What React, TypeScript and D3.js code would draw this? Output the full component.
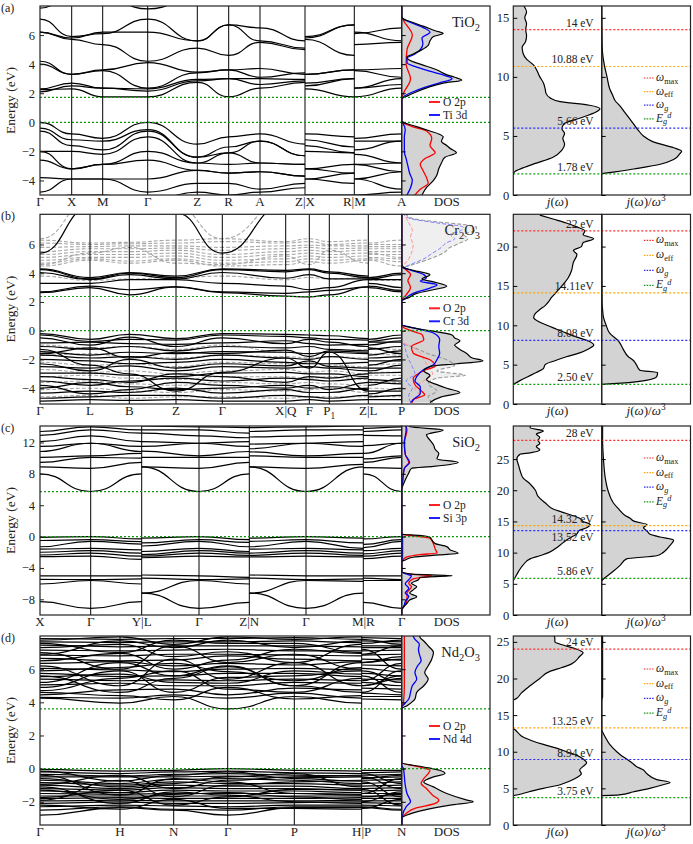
import { useEffect, useRef } from 'react';
import * as d3 from 'd3';

type Pt = [number, number];
type Seg = { pos: number[]; val: number[] };
type Part = { t: string; sub?: boolean; sup?: boolean; it?: boolean; dx?: number };

// ---------------- (a) TiO2 ----------------
const TIO2_KLABELS = ['Γ', 'X', 'M', 'Γ', 'Z', 'R', 'A', 'Z|X', 'R|M', 'A'];
const TIO2_KDIST = [0, 0.317, 0.627, 1.077, 1.573, 1.887, 2.2, 2.65, 3.143, 3.617];
// band values at Γ X M Γ Z R A Z
const TIO2_SEGS: Seg[] = [
  { pos: [0, 1, 2, 3, 4, 5, 6, 7], val: [0, 1, 2, 3, 4, 5, 6, 7] },
  { pos: [7, 8], val: [1, 5] },
  { pos: [8, 9], val: [2, 6] },
];
const TIO2_BANDS = [
  [2.25, 2.3, 1.75, 1.75, 2.75, 1.75, 2.35, 2.75],
  [2.1, 2.5, 2.35, 2.15, 2.85, 3.0, 2.6, 2.85],
  [2.3, 2.7, 2.35, 2.3, 2.95, 3.0, 3.0, 2.95],
  [4.0, 3.3, 3.55, 2.35, 3.4, 3.6, 3.1, 3.4],
  [4.2, 3.3, 3.6, 4.1, 3.45, 3.6, 3.7, 3.3],
  [6.2, 5.7, 5.35, 4.2, 5.1, 4.6, 5.5, 5.0],
  [6.2, 5.8, 6.2, 6.2, 5.6, 6.7, 5.6, 5.1],
  [7.1, 5.9, 6.1, 7.1, 5.6, 6.7, 6.5, 5.6],
  [7.85, 8.6, 8.6, 7.8, 8.6, 8.6, 8.6, 8.6],
  [0.0, -0.8, -1.1, 0.0, -1.5, -1.0, -0.8, -1.5],
  [-0.4, -1.2, -1.3, -0.5, -2.4, -1.7, -1.3, -2.3],
  [-0.6, -1.6, -1.9, -0.6, -2.4, -2.1, -1.3, -2.3],
  [-2.0, -2.0, -2.2, -1.0, -2.8, -2.1, -2.8, -2.9],
  [-2.0, -3.2, -2.9, -2.0, -2.8, -2.9, -2.8, -2.9],
  [-2.6, -3.2, -2.9, -2.6, -3.3, -3.5, -3.4, -3.7],
  [-3.8, -3.9, -3.9, -3.9, -3.3, -3.5, -3.4, -3.7],
  [-4.8, -3.9, -3.9, -4.8, -4.2, -4.2, -4.6, -4.2],
  [-5.4, -5.0, -5.0, -5.4, -4.8, -5.0, -4.8, -4.5],
];
const TIO2_ETICKS = [-4, -2, 0, 2, 4, 6];
const TIO2_GAPS = [0, 1.72];
const TIO2_DOS_TOTAL: Pt[] = [
  [-5, 0.23], [-4.5, 0.28], [-4.0, 0.36], [-3.6, 0.4], [-3.2, 0.42], [-2.8, 0.45], [-2.4, 0.49],
  [-2.1, 0.62], [-1.8, 0.55], [-1.6, 0.51], [-1.3, 0.45], [-1.0, 0.47], [-0.8, 0.42], [-0.6, 0.32],
  [-0.3, 0.17], [0, 0.02], [0.1, 0], [1.6, 0], [1.8, 0.06], [2.1, 0.17], [2.4, 0.3], [2.7, 0.47],
  [2.9, 0.68], [3.1, 0.6], [3.3, 0.5], [3.6, 0.4], [4.0, 0.21], [4.3, 0.08], [4.5, 0.06], [4.7, 0.13],
  [5.0, 0.23], [5.3, 0.3], [5.6, 0.32], [5.9, 0.36], [6.1, 0.47], [6.3, 0.38], [6.6, 0.25],
  [6.9, 0.11], [7.1, 0.02], [7.3, 0], [8, 0],
];
const TIO2_DOS_O2P: Pt[] = [
  [-5, 0.15], [-4.6, 0.21], [-4.2, 0.3], [-3.8, 0.28], [-3.3, 0.24], [-2.9, 0.21], [-2.5, 0.26],
  [-2.1, 0.38], [-1.6, 0.32], [-1.1, 0.34], [-0.6, 0.28], [-0.3, 0.12], [0, 0.01], [0.1, 0],
  [1.6, 0], [2.0, 0.02], [3.0, 0.1], [4.0, 0.05], [5.0, 0.06], [6.0, 0.12], [7.0, 0.02], [7.3, 0], [8, 0],
];
const TIO2_DOS_TI3D: Pt[] = [
  [-5, 0.06], [-4.5, 0.1], [-4.0, 0.12], [-3.5, 0.09], [-3.0, 0.07], [-2.5, 0.05], [-2.0, 0.03],
  [-1.0, 0.03], [-0.5, 0.04], [0, 0.01], [0.1, 0], [1.6, 0], [1.8, 0.03], [2.1, 0.13], [2.4, 0.26],
  [2.7, 0.42], [3.0, 0.57], [3.2, 0.5], [3.5, 0.33], [3.8, 0.17], [4.1, 0.06], [4.4, 0.06], [4.7, 0.15],
  [5.0, 0.21], [5.4, 0.24], [5.8, 0.23], [6.2, 0.32], [6.5, 0.25], [6.8, 0.13], [7.1, 0.02], [7.3, 0], [8, 0],
];
const TIO2_J: Pt[] = [
  [1.8, 0], [2.0, 0.02], [2.3, 0.11], [2.7, 0.26], [3.2, 0.45], [3.8, 0.55], [4.3, 0.58], [4.8, 0.56],
  [5.2, 0.58], [5.6, 0.55], [6.0, 0.57], [6.5, 0.75], [7.0, 0.93], [7.3, 0.98], [7.6, 0.86],
  [7.9, 0.53], [8.2, 0.42], [8.6, 0.37], [9.0, 0.36], [9.5, 0.34], [10, 0.3], [10.5, 0.27],
  [11, 0.23], [11.5, 0.15], [12, 0.11], [12.5, 0.1], [13, 0.14], [13.5, 0.15], [14, 0.14],
  [14.5, 0.15], [15, 0.13], [15.5, 0.15], [16, 0.12],
];
const TIO2_JW3: Pt[] = [
  [1.78, 0], [1.85, 0.04], [1.95, 0.15], [2.2, 0.36], [2.6, 0.66], [3.0, 0.81], [3.5, 0.88],
  [3.7, 0.9], [4.0, 0.81], [4.5, 0.58], [5.0, 0.47], [5.5, 0.41], [6.0, 0.36], [6.5, 0.31],
  [7.0, 0.26], [7.5, 0.21], [8.0, 0.15], [8.5, 0.12], [9.0, 0.09], [10, 0.06], [11, 0.03],
  [12, 0.01], [13, 0.004], [16, 0],
];
const TIO2_REFS = [14, 10.88, 5.66, 1.78];
const TIO2_REF_LABELS = ['14 eV', '10.88 eV', '5.66 eV', '1.78 eV'];
const TIO2_JTICKS = [0, 5, 10, 15];

// ---------------- (b) Cr2O3 ----------------
const CR2O3_KLABELS = ['Γ', 'L', 'B', 'Z', 'Γ', 'X|Q', 'F', 'P_1', 'Z|L', 'P'];
const CR2O3_KDIST = [0, 0.5, 0.893, 1.36, 1.823, 2.457, 2.693, 2.893, 3.283, 3.617];
// band values at Γ L B Z Γ X Q F P1 P
const CR2O3_SEGS: Seg[] = [
  { pos: [0, 1, 2, 3, 4, 5], val: [0, 1, 2, 3, 4, 5] },
  { pos: [5, 6, 7, 8], val: [6, 7, 8, 3] },
  { pos: [8, 9], val: [1, 9] },
];
const CR2O3_BANDS_UP = [
  [2.65, 3.0, 2.5, 3.05, 2.65, 2.4, 2.4, 2.35, 2.5, 2.7],
  [2.7, 3.1, 2.85, 3.05, 2.7, 2.6, 2.6, 2.7, 2.8, 2.8],
  [3.3, 3.3, 3.55, 3.55, 3.3, 3.1, 3.1, 2.85, 3.0, 3.0],
  [4.05, 3.55, 3.9, 3.6, 4.05, 3.65, 3.65, 3.9, 3.6, 3.55],
  [4.25, 3.6, 4.0, 3.7, 4.25, 4.1, 4.1, 4.25, 4.0, 3.9],
  [4.3, 3.7, 4.05, 3.8, 4.3, 4.2, 4.2, 4.3, 4.1, 4.0],
  [5.4, 8.6, 9.5, 8.2, 5.4, 8.8, 9.5, 9.5, 9.5, 8.6],
  [-0.2, -0.6, -0.25, -0.55, -0.2, -0.25, -0.25, -0.3, -0.35, -0.3],
  [-0.3, -0.75, -0.6, -0.65, -0.3, -0.4, -0.4, -0.5, -0.6, -0.5],
  [-0.5, -1.0, -0.45, -1.1, -0.5, -0.9, -0.9, -0.6, -0.8, -0.7],
  [-0.85, -0.8, -0.9, -0.95, -0.85, -0.7, -0.7, -0.9, -1.0, -0.8],
  [-1.1, -1.3, -1.1, -1.4, -1.1, -1.2, -1.2, -1.1, -1.3, -1.1],
  [-1.45, -1.7, -1.5, -1.6, -1.45, -1.5, -1.5, -1.6, -1.5, -1.4],
  [-1.6, -1.2, -1.9, -1.5, -1.6, -1.35, -1.35, -1.8, -1.4, -1.6],
  [-1.7, -1.9, -1.8, -2.0, -1.7, -1.9, -1.9, -2.0, -1.8, -1.8],
  [-2.0, -2.1, -2.3, -2.2, -2.0, -2.2, -2.2, -2.3, -2.3, -2.1],
  [-2.3, -2.8, -2.0, -2.6, -2.3, -2.45, -2.45, -2.1, -2.5, -2.4],
  [-2.5, -2.6, -2.45, -2.8, -2.5, -2.6, -2.6, -2.5, -2.6, -2.6],
  [-2.95, -2.95, -3.1, -3.2, -2.95, -2.9, -2.9, -3.0, -3.0, -2.9],
  [-3.2, -3.4, -3.6, -3.0, -3.2, -3.6, -3.6, -3.2, -3.3, -3.5],
  [-3.5, -3.8, -3.5, -3.3, -3.5, -3.3, -3.3, -3.4, -3.5, -3.3],
  [-3.8, -4.4, -4.1, -3.6, -3.8, -4.0, -4.0, -3.8, -4.1, -4.0],
  [-4.0, -3.6, -3.9, -4.1, -4.0, -3.8, -3.8, -4.0, -3.9, -3.7],
  [-4.35, -4.2, -4.3, -4.0, -4.35, -4.1, -4.1, -4.3, -4.3, -4.2],
  [-4.7, -4.6, -4.5, -4.5, -4.7, -4.5, -4.5, -4.6, -4.7, -4.5],
  [-4.9, -4.8, -4.85, -4.8, -4.9, -4.9, -4.9, -4.8, -4.9, -4.8],
  [-1.3, -2.4, -3.0, -4.2, -2.9, -1.9, -1.9, -2.6, -1.5, -2.0],
];
const CR2O3_BANDS_DN = [
  [3.8, 3.5, 3.6, 3.7, 3.8, 3.55, 3.55, 3.7, 3.6, 3.5],
  [4.5, 4.9, 4.7, 4.9, 4.5, 4.6, 4.6, 4.8, 4.7, 4.5],
  [4.7, 5.0, 4.85, 5.0, 4.7, 4.8, 4.8, 5.0, 4.9, 4.8],
  [4.9, 5.1, 5.1, 5.2, 4.9, 5.0, 5.0, 5.2, 5.1, 5.0],
  [5.1, 5.3, 5.3, 5.4, 5.1, 5.3, 5.3, 5.4, 5.3, 5.3],
  [5.3, 5.5, 5.5, 5.6, 5.3, 5.5, 5.5, 5.6, 5.5, 5.5],
  [5.5, 5.7, 5.7, 5.75, 5.6, 5.7, 5.7, 5.8, 5.7, 5.7],
  [5.8, 5.85, 5.9, 5.9, 5.8, 5.9, 5.9, 5.95, 5.9, 5.85],
  [6.1, 6.0, 6.05, 6.1, 6.2, 6.1, 6.1, 6.2, 6.0, 6.0],
  [6.3, 6.1, 6.15, 6.3, 6.4, 6.2, 6.2, 6.4, 6.2, 6.3],
  [4.6, 5.4, 5.8, 4.7, 4.6, 5.2, 5.2, 4.6, 5.6, 5.1],
  [6.4, 9.0, 9.5, 8.6, 6.4, 9.0, 9.5, 9.5, 9.5, 9.0],
  [-1.0, -1.2, -1.1, -1.3, -1.0, -1.5, -1.5, -1.6, -1.5, -1.3],
  [-1.7, -1.6, -1.8, -1.9, -1.7, -1.8, -1.8, -1.9, -1.8, -1.7],
  [-2.2, -2.4, -2.3, -2.5, -2.2, -2.3, -2.3, -2.2, -2.4, -2.3],
  [-2.7, -2.9, -2.8, -3.0, -2.8, -2.7, -2.7, -2.9, -2.8, -2.9],
  [-3.2, -3.1, -3.3, -3.4, -3.2, -3.2, -3.2, -3.3, -3.2, -3.1],
  [-3.6, -3.5, -3.7, -3.8, -3.6, -3.7, -3.7, -3.6, -3.7, -3.6],
  [-4.1, -4.0, -4.2, -4.3, -4.1, -4.2, -4.2, -4.1, -4.0, -4.1],
  [-4.6, -4.5, -4.7, -4.6, -4.6, -4.7, -4.7, -4.6, -4.6, -4.6],
];
const CR2O3_ETICKS = [-4, -2, 0, 2, 4, 6];
const CR2O3_GAPS = [0, 2.38];
const CR2O3_DOS_UP: Pt[] = [
  [-5, 0.32], [-4.6, 0.45], [-4.3, 0.66], [-4.0, 0.51], [-3.8, 0.42], [-3.4, 0.28], [-3.1, 0.32],
  [-2.8, 0.25], [-2.5, 0.32], [-2.3, 0.62], [-2.1, 0.92], [-1.9, 0.8], [-1.6, 0.74], [-1.3, 0.66],
  [-1.0, 0.6], [-0.7, 0.66], [-0.5, 0.6], [-0.3, 0.57], [0, 0.32], [0.2, 0.13], [0.4, 0], [2.1, 0],
  [2.3, 0.08], [2.6, 0.17], [2.9, 0.4], [3.1, 0.51], [3.4, 0.36], [3.6, 0.23], [3.9, 0.32],
  [4.2, 0.13], [4.4, 0.02], [4.6, 0], [8.1, 0],
];
const CR2O3_DOS_DN: Pt[] = [
  [-5, 0.35], [-4.6, 0.3], [-4.2, 0.4], [-3.7, 0.3], [-3.3, 0.4], [-3.1, 0.72], [-2.8, 0.4],
  [-2.4, 0.6], [-2.0, 0.5], [-1.6, 0.3], [-1.2, 0.15], [-0.8, 0], [4.3, 0], [4.6, 0.13], [5.0, 0.32],
  [5.4, 0.47], [5.8, 0.55], [6.1, 0.66], [6.4, 0.75], [6.7, 0.7], [6.9, 0.81], [7.2, 0.85],
  [7.4, 0.68], [7.6, 0.36], [7.8, 0.13], [8.1, 0.05],
];
const CR2O3_O2P_UP: Pt[] = [
  [-5, 0.12], [-4.8, 0.13], [-4.46, 0.26], [-4.23, 0.23], [-3.76, 0.15], [-3.3, 0.13], [-3.07, 0.17],
  [-2.7, 0.28], [-2.48, 0.38], [-2.02, 0.32], [-1.56, 0.13], [-1.1, 0.11], [-0.63, 0.25],
  [-0.28, 0.23], [-0.05, 0.13], [0.35, 0], [2.1, 0], [2.5, 0.05], [3.0, 0.1], [3.5, 0.07],
  [3.9, 0.1], [4.4, 0.02], [4.6, 0], [8.1, 0],
];
const CR2O3_CR3D_UP: Pt[] = [
  [-5, 0.1], [-4.8, 0.13], [-4.35, 0.21], [-3.9, 0.21], [-3.5, 0.15], [-3.2, 0.17], [-2.7, 0.25],
  [-2.37, 0.36], [-2.0, 0.4], [-1.56, 0.43], [-1.1, 0.42], [-0.63, 0.43], [-0.16, 0.36], [0.3, 0.06],
  [0.4, 0], [2.1, 0], [2.16, 0.02], [2.6, 0.13], [2.97, 0.32], [3.2, 0.4], [3.44, 0.21],
  [3.67, 0.28], [3.9, 0.25], [4.2, 0.11], [4.37, 0.02], [4.5, 0], [8.1, 0],
];
const CR2O3_O2P_DN: Pt[] = [
  [-5, 0.1], [-4.5, 0.2], [-4.0, 0.15], [-3.5, 0.25], [-3.0, 0.35], [-2.5, 0.3], [-2.0, 0.25],
  [-1.5, 0.2], [-1.0, 0.08], [-0.8, 0], [4.3, 0], [5.0, 0.08], [6.0, 0.13], [6.5, 0.1], [7.0, 0.12],
  [7.5, 0.08], [8.1, 0.03],
];
const CR2O3_CR3D_DN: Pt[] = [
  [-5, 0.1], [-4.5, 0.08], [-4.0, 0.12], [-3.5, 0.05], [-3.0, 0.15], [-2.5, 0.12], [-2.0, 0.08],
  [-1.5, 0.05], [-1.0, 0.03], [-0.8, 0], [4.3, 0], [4.6, 0.1], [5.0, 0.25], [5.4, 0.35], [5.8, 0.45],
  [6.1, 0.5], [6.4, 0.6], [6.7, 0.55], [6.9, 0.65], [7.2, 0.7], [7.5, 0.4], [7.8, 0.1], [8.1, 0.02],
];
const CR2O3_J: Pt[] = [
  [2.5, 0], [3, 0.08], [3.5, 0.17], [4, 0.26], [4.5, 0.34], [5, 0.36], [5.5, 0.47], [6, 0.6],
  [6.5, 0.75], [7, 0.85], [7.5, 0.91], [8, 0.85], [8.5, 0.72], [9, 0.6], [9.5, 0.49], [10, 0.38],
  [10.5, 0.28], [11, 0.23], [11.5, 0.25], [12, 0.3], [12.5, 0.36], [13, 0.4], [13.5, 0.43],
  [14, 0.47], [15, 0.55], [16, 0.62], [17, 0.66], [18, 0.68], [19, 0.72], [19.5, 0.68], [20, 0.77],
  [20.5, 0.79], [21, 0.91], [21.5, 0.79], [22, 0.81], [22.5, 0.72], [23, 0.6], [23.5, 0.45], [24, 0.3],
];
const CR2O3_JW3: Pt[] = [
  [2.5, 0], [2.55, 0.08], [2.65, 0.22], [3.0, 0.5], [3.5, 0.62], [4.0, 0.63], [4.3, 0.43],
  [5.0, 0.39], [5.5, 0.36], [6.0, 0.3], [7.0, 0.24], [8.0, 0.19], [9.0, 0.09], [10, 0.05],
  [11, 0.02], [12, 0.01], [13, 0.004], [24, 0],
];
const CR2O3_REFS = [22, 14.11, 8.08, 2.5];
const CR2O3_REF_LABELS = ['22 eV', '14.11eV', '8.08 eV', '2.50 eV'];
const CR2O3_JTICKS = [0, 5, 10, 15, 20];

// ---------------- (c) SiO2 ----------------
const SIO2_KLABELS = ['X', 'Γ', 'Y|L', 'Γ', 'Z|N', 'Γ', 'M|R', 'Γ'];
const SIO2_KDIST = [0, 0.507, 1.017, 1.59, 2.093, 2.66, 3.233, 3.617];
// band values at X Γ Y L Z N M R
const SIO2_SEGS: Seg[] = [
  { pos: [0, 1, 2], val: [0, 1, 2] },
  { pos: [2, 3, 4], val: [3, 1, 4] },
  { pos: [4, 5, 6], val: [5, 1, 6] },
  { pos: [6, 7], val: [7, 1] },
];
const SIO2_BANDS = [
  [8.0, 5.75, 8.0, 8.9, 8.0, 8.9, 8.9, 8.0],
  [8.9, 8.7, 9.45, 8.9, 9.45, 8.9, 9.2, 8.8],
  [9.45, 10.1, 10.0, 10.1, 10.1, 10.3, 10.1, 9.45],
  [10.1, 10.3, 10.6, 10.9, 10.85, 10.8, 10.6, 9.9],
  [10.85, 11.9, 10.85, 11.5, 11.5, 11.2, 11.5, 10.6],
  [11.5, 11.9, 11.5, 12.1, 12.1, 11.8, 12.1, 11.6],
  [12.1, 12.85, 12.1, 13.2, 12.6, 12.7, 13.0, 12.9],
  [12.9, 13.6, 13.2, 13.6, 13.2, 13.4, 13.6, 13.4],
  [13.4, 14.0, 13.6, 14.1, 13.9, 13.9, 14.1, 13.8],
  [-0.1, 0.0, -0.3, -0.2, -0.4, -0.2, -0.2, -0.3],
  [-0.5, -0.4, -0.65, -0.8, -0.75, -0.6, -0.8, -1.0],
  [-1.3, -0.6, -0.95, -1.2, -1.3, -1.3, -1.5, -1.4],
  [-1.6, -1.5, -1.7, -1.9, -1.9, -1.6, -1.7, -1.8],
  [-2.0, -1.8, -2.1, -2.3, -2.1, -2.1, -2.1, -2.2],
  [-2.35, -2.1, -2.5, -2.5, -2.4, -2.4, -2.4, -2.5],
  [-2.55, -2.5, -2.9, -2.7, -2.6, -2.6, -2.6, -2.8],
  [-5.0, -5.0, -5.0, -4.9, -5.2, -4.9, -5.0, -5.0],
  [-5.45, -5.5, -5.4, -5.3, -5.4, -5.3, -5.4, -5.3],
  [-6.05, -5.6, -6.05, -7.2, -6.05, -7.2, -5.7, -5.6],
  [-8.3, -9.15, -8.3, -7.2, -8.4, -7.2, -7.2, -8.4],
];
const SIO2_ETICKS = [-8, -4, 0, 4, 8, 12];
const SIO2_GAPS = [0, 5.72];
const SIO2_DOS_TOTAL: Pt[] = [
  [-10, 0], [-9.3, 0], [-9.0, 0.02], [-8.5, 0.06], [-8.1, 0.09], [-7.66, 0.17], [-7.2, 0.09],
  [-6.8, 0.13], [-6.38, 0.17], [-5.96, 0.11], [-5.5, 0.19], [-5.2, 0.21], [-5.0, 0.57], [-4.8, 0.12],
  [-4.5, 0], [-3.2, 0], [-2.98, 0.04], [-2.64, 0.13], [-2.34, 0.42], [-2.13, 0.64], [-1.7, 0.55],
  [-1.28, 0.51], [-0.9, 0.38], [-0.4, 0.34], [-0.1, 0.32], [0.15, 0.2], [0.3, 0], [6.0, 0],
  [6.4, 0.01], [7.2, 0.04], [8.1, 0.08], [8.7, 0.11], [8.95, 0.36], [9.45, 0.64], [9.9, 0.4],
  [10.6, 0.42], [11.1, 0.38], [11.7, 0.36], [12.3, 0.32], [12.97, 0.28], [13.6, 0.47], [14.0, 0.1],
  [14.2, 0.08],
];
const SIO2_DOS_O2P: Pt[] = [
  [-10, 0], [-9.3, 0], [-9.0, 0.02], [-8.0, 0.06], [-7.2, 0.06], [-6.4, 0.11], [-5.96, 0.08],
  [-5.4, 0.13], [-5.0, 0.34], [-4.8, 0.1], [-4.5, 0], [-3.2, 0], [-2.9, 0.02], [-2.6, 0.06],
  [-2.3, 0.21], [-2.1, 0.4], [-1.6, 0.38], [-0.94, 0.36], [-0.2, 0.32], [0.1, 0.13], [0.3, 0],
  [6.0, 0], [7.0, 0.01], [8.7, 0.03], [9.45, 0.08], [10.5, 0.04], [12.0, 0.03], [13.6, 0.06],
  [14.2, 0.04],
];
const SIO2_DOS_SI3P: Pt[] = [
  [-10, 0], [-9.3, 0], [-9.0, 0.02], [-8.3, 0.04], [-7.6, 0.08], [-7.2, 0.04], [-6.6, 0.08],
  [-6.0, 0.04], [-5.5, 0.08], [-5.0, 0.11], [-4.8, 0.06], [-4.5, 0], [-3.2, 0], [-2.5, 0.01],
  [0, 0.01], [0.3, 0], [6.0, 0], [7.0, 0.01], [8.7, 0.03], [9.45, 0.09], [10.5, 0.04], [12.0, 0.03],
  [13.6, 0.05], [14.2, 0.05],
];
const SIO2_J: Pt[] = [
  [5.5, 0], [6, 0.02], [7, 0.06], [8, 0.11], [9, 0.19], [9.5, 0.3], [10, 0.4], [11, 0.51], [12, 0.6],
  [12.5, 0.66], [13, 0.72], [13.5, 0.74], [14, 0.83], [14.5, 0.87], [15, 0.79], [15.5, 0.75],
  [16, 0.66], [16.5, 0.55], [17, 0.45], [18, 0.36], [19, 0.28], [20, 0.25], [21, 0.19], [22, 0.11],
  [23, 0.08], [24, 0.06], [25, 0.04], [25.8, 0.08], [26, 0.19], [26.5, 0.3], [27, 0.26], [27.5, 0.3],
  [28, 0.28], [28.5, 0.3], [29, 0.26], [29.5, 0.34], [30, 0.19], [30.5, 0.2],
];
const SIO2_JW3: Pt[] = [
  [5.5, 0], [6, 0.04], [7, 0.13], [8, 0.21], [9, 0.28], [9.5, 0.62], [10, 0.69], [10.5, 0.73],
  [11, 0.76], [11.5, 0.79], [12, 0.81], [12.5, 0.66], [13, 0.54], [13.5, 0.51], [14, 0.47],
  [14.5, 0.51], [15, 0.37], [15.5, 0.32], [16, 0.26], [17, 0.19], [18, 0.13], [20, 0.07],
  [22, 0.04], [25, 0.02], [28, 0.01], [30.5, 0.01],
];
const SIO2_REFS = [28, 14.32, 13.52, 5.86];
const SIO2_REF_LABELS = ['28 eV', '14.32 eV', '13.52 eV', '5.86 eV'];
const SIO2_JTICKS = [0, 5, 10, 15, 20, 25];

// ---------------- (d) Nd2O3 ----------------
const ND2O3_KLABELS = ['Γ', 'H', 'N', 'Γ', 'P', 'H|P', 'N'];
const ND2O3_KDIST = [0, 0.8, 1.337, 1.877, 2.543, 3.217, 3.617];
// band values at Γ H N Γ P
const ND2O3_SEGS: Seg[] = [
  { pos: [0, 1, 2, 3, 4, 5], val: [0, 1, 2, 3, 4, 1] },
  { pos: [5, 6], val: [4, 2] },
];
const ND2O3_BANDS = [
  [4.25, 3.95, 4.35, 3.6, 4.35],
  [4.3, 4.25, 4.45, 4.25, 4.55],
  [4.45, 4.75, 4.8, 4.45, 4.85],
  [4.6, 4.4, 4.15, 4.9, 4.2],
  [4.7, 5.45, 5.9, 4.8, 4.6],
  [4.9, 5.9, 4.6, 5.5, 5.6],
  [5.05, 5.15, 5.0, 5.0, 5.2],
  [5.2, 6.4, 5.6, 6.2, 5.0],
  [5.4, 5.3, 5.35, 5.3, 5.4],
  [5.55, 5.7, 5.2, 5.15, 5.9],
  [5.6, 4.6, 5.45, 6.15, 5.0],
  [5.75, 5.55, 5.6, 5.75, 5.75],
  [5.9, 6.1, 6.35, 5.85, 5.3],
  [6.05, 5.95, 5.85, 6.0, 6.05],
  [6.2, 5.0, 6.6, 5.4, 6.4],
  [6.35, 6.45, 6.2, 6.35, 6.25],
  [6.5, 6.95, 6.0, 6.55, 7.2],
  [6.65, 6.5, 6.55, 6.8, 6.6],
  [6.85, 6.8, 6.9, 6.9, 6.85],
  [6.9, 7.7, 7.3, 7.75, 7.3],
  [7.0, 6.0, 7.4, 6.4, 6.9],
  [7.15, 7.1, 7.15, 7.2, 7.1],
  [7.3, 7.5, 6.75, 7.05, 6.4],
  [7.45, 7.35, 7.4, 7.4, 7.4],
  [7.55, 7.0, 7.75, 7.55, 7.55],
  [7.65, 7.6, 7.65, 7.65, 7.7],
  [7.75, 7.95, 7.5, 7.95, 7.8],
  [7.85, 7.8, 7.85, 7.85, 7.9],
  [-0.05, -0.15, -0.1, 0.0, -0.1],
  [-0.15, -0.75, -0.4, -0.2, -0.6],
  [-0.2, -0.3, -0.2, -0.15, -0.25],
  [-0.35, -0.45, -0.35, -0.3, -0.4],
  [-0.4, -1.6, -0.6, -0.8, -1.5],
  [-0.5, -0.5, -0.5, -0.45, -0.55],
  [-0.6, -1.1, -0.9, -0.5, -0.3],
  [-0.7, -0.9, -0.65, -0.6, -0.7],
  [-0.85, -1.0, -0.8, -0.9, -0.9],
  [-0.95, -0.4, -1.2, -0.7, -0.5],
  [-1.0, -1.2, -1.0, -1.05, -1.05],
  [-1.1, -2.1, -1.4, -1.6, -2.0],
  [-1.2, -1.3, -1.15, -1.2, -1.2],
  [-1.3, -1.85, -1.55, -1.45, -1.7],
  [-1.35, -1.45, -1.3, -1.35, -1.35],
  [-1.5, -1.55, -1.5, -1.5, -1.5],
  [-1.65, -1.65, -1.65, -1.65, -1.65],
  [-1.75, -1.3, -2.2, -1.7, -1.25],
  [-1.8, -1.75, -1.8, -1.8, -1.8],
  [-1.9, -0.7, -1.7, -1.0, -0.8],
  [-1.95, -1.9, -1.95, -1.95, -1.95],
  [-2.1, -2.0, -2.1, -2.1, -2.05],
  [-2.2, -2.45, -1.85, -2.4, -2.4],
  [-2.3, -2.2, -2.25, -2.3, -2.2],
  [-2.5, -2.3, -2.45, -2.5, -2.3],
  [-2.8, -2.35, -2.5, -2.8, -2.35],
];
const ND2O3_ETICKS = [-2, 0, 2, 4, 6];
const ND2O3_GAPS = [0, 3.6];
const ND2O3_DOS_TOTAL: Pt[] = [
  [-3.4, 0], [-3.0, 0], [-2.8, 0.06], [-2.5, 0.25], [-2.2, 0.55], [-2.0, 0.81], [-1.9, 0.74],
  [-1.5, 0.51], [-1.1, 0.36], [-0.8, 0.25], [-0.5, 0.36], [-0.3, 0.49], [-0.1, 0.43], [0.1, 0.25],
  [0.35, 0], [3.6, 0], [3.8, 0.06], [4.2, 0.15], [4.6, 0.17], [5.0, 0.25], [5.4, 0.3], [5.8, 0.26],
  [6.2, 0.3], [6.6, 0.34], [7.0, 0.36], [7.4, 0.3], [7.7, 0.25], [7.9, 0.21], [8.1, 0.2],
];
const ND2O3_DOS_O2P: Pt[] = [
  [-3.4, 0], [-3.0, 0], [-2.7, 0.05], [-2.4, 0.15], [-2.1, 0.38], [-1.9, 0.42], [-1.6, 0.35],
  [-1.2, 0.28], [-0.9, 0.22], [-0.6, 0.25], [-0.3, 0.3], [-0.1, 0.32], [0.1, 0.2], [0.35, 0],
  [3.7, 0], [4.0, 0.02], [5.0, 0.03], [6.0, 0.03], [7.0, 0.03], [8.1, 0.03],
];
const ND2O3_DOS_ND4D: Pt[] = [
  [-3.4, 0], [-2.8, 0.01], [-2.3, 0.05], [-2.0, 0.1], [-1.5, 0.06], [-1.0, 0.04], [0, 0.02],
  [0.2, 0], [3.7, 0], [3.9, 0.03], [4.2, 0.08], [4.6, 0.1], [5.0, 0.12], [5.4, 0.17], [5.8, 0.15],
  [6.2, 0.18], [6.5, 0.22], [6.9, 0.2], [7.2, 0.19], [7.5, 0.2], [7.8, 0.15], [8.1, 0.12],
];
const ND2O3_J: Pt[] = [
  [4, 0], [4.3, 0.11], [4.7, 0.23], [5.0, 0.34], [5.5, 0.53], [6, 0.64], [6.5, 0.72], [7, 0.77],
  [7.5, 0.75], [8, 0.79], [8.5, 0.83], [9, 0.79], [9.5, 0.72], [10, 0.6], [10.5, 0.49], [11, 0.34],
  [11.5, 0.21], [12, 0.11], [12.5, 0.06], [13, 0.02], [13.2, 0], [17, 0], [17.3, 0.04], [18, 0.09],
  [19, 0.19], [20, 0.3], [21, 0.42], [21.5, 0.55], [22, 0.66], [23, 0.75], [23.5, 0.79], [24, 0.72],
  [24.5, 0.58], [25, 0.47], [25.5, 0.47], [26, 0.45],
];
const ND2O3_JW3: Pt[] = [
  [4, 0], [4.05, 0.1], [4.15, 0.22], [4.5, 0.35], [5, 0.54], [5.5, 0.69], [5.8, 0.77], [6.2, 0.62],
  [7, 0.51], [7.5, 0.47], [8, 0.39], [8.5, 0.34], [9, 0.28], [9.5, 0.22], [10, 0.17], [11, 0.09],
  [12, 0.04], [12.7, 0.01], [13, 0], [17, 0], [17.5, 0.01], [26, 0.01],
];
const ND2O3_REFS = [24, 13.25, 8.94, 3.75];
const ND2O3_REF_LABELS = ['24 eV', '13.25 eV', '8.94 eV', '3.75 eV'];
const ND2O3_JTICKS = [0, 5, 10, 15, 20, 25];

const REF_COLORS = ['#ff2a2a', '#ffa500', '#2a2aff', '#119911'];
const FONT = "'Liberation Serif', 'Times New Roman', serif";

const ROWS = [
  {
    tag: '(a)', top: 6, bottom: 195, eRange: [-5, 8], kLabels: TIO2_KLABELS, kDist: TIO2_KDIST,
    segs: TIO2_SEGS, bands: TIO2_BANDS, dashed: [] as number[][], eTicks: TIO2_ETICKS, gaps: TIO2_GAPS,
    dosTotal: TIO2_DOS_TOTAL, dosDash: null as Pt[] | null,
    partials: [{ d: TIO2_DOS_O2P, c: '#ff0000', dash: false }, { d: TIO2_DOS_TI3D, c: '#0000ff', dash: false }],
    legend: ['O 2p', 'Ti 3d'], legendY: 96,
    material: [{ t: 'TiO' }, { t: '2', sub: true }] as Part[],
    j: TIO2_J, jw3: TIO2_JW3, jMax: 16, jTicks: TIO2_JTICKS, refs: TIO2_REFS, refLabels: TIO2_REF_LABELS,
    below: [] as number[], jLegendY: 72, jLegendStep: 13.6,
  },
  {
    tag: '(b)', top: 214.3, bottom: 404, eRange: [-5.1, 8.1], kLabels: CR2O3_KLABELS, kDist: CR2O3_KDIST,
    segs: CR2O3_SEGS, bands: CR2O3_BANDS_UP, dashed: CR2O3_BANDS_DN, eTicks: CR2O3_ETICKS, gaps: CR2O3_GAPS,
    dosTotal: CR2O3_DOS_UP, dosDash: CR2O3_DOS_DN,
    partials: [
      { d: CR2O3_O2P_DN, c: '#ff9090', dash: true }, { d: CR2O3_CR3D_DN, c: '#8080ff', dash: true },
      { d: CR2O3_O2P_UP, c: '#ff0000', dash: false }, { d: CR2O3_CR3D_UP, c: '#0000ff', dash: false },
    ],
    legend: ['O 2p', 'Cr 3d'], legendY: 94,
    material: [{ t: 'Cr' }, { t: '2', sub: true }, { t: 'O' }, { t: '3', sub: true }] as Part[],
    j: CR2O3_J, jw3: CR2O3_JW3, jMax: 24.1, jTicks: CR2O3_JTICKS, refs: CR2O3_REFS, refLabels: CR2O3_REF_LABELS,
    below: [] as number[], jLegendY: 26, jLegendStep: 15,
  },
  {
    tag: '(c)', top: 426, bottom: 615, eRange: [-10, 14.1], kLabels: SIO2_KLABELS, kDist: SIO2_KDIST,
    segs: SIO2_SEGS, bands: SIO2_BANDS, dashed: [] as number[][], eTicks: SIO2_ETICKS, gaps: SIO2_GAPS,
    dosTotal: SIO2_DOS_TOTAL, dosDash: null as Pt[] | null,
    partials: [{ d: SIO2_DOS_O2P, c: '#ff0000', dash: false }, { d: SIO2_DOS_SI3P, c: '#0000ff', dash: false }],
    legend: ['O 2p', 'Si 3p'], legendY: 79,
    material: [{ t: 'SiO' }, { t: '2', sub: true }] as Part[],
    j: SIO2_J, jw3: SIO2_JW3, jMax: 30.3, jTicks: SIO2_JTICKS, refs: SIO2_REFS, refLabels: SIO2_REF_LABELS,
    below: [2], jLegendY: 32, jLegendStep: 14.6,
  },
  {
    tag: '(d)', top: 636, bottom: 825, eRange: [-3.4, 8], kLabels: ND2O3_KLABELS, kDist: ND2O3_KDIST,
    segs: ND2O3_SEGS, bands: ND2O3_BANDS, dashed: [] as number[][], eTicks: ND2O3_ETICKS, gaps: ND2O3_GAPS,
    dosTotal: ND2O3_DOS_TOTAL, dosDash: null as Pt[] | null,
    partials: [{ d: ND2O3_DOS_O2P, c: '#ff0000', dash: false }, { d: ND2O3_DOS_ND4D, c: '#0000ff', dash: false }],
    legend: ['O 2p', 'Nd 4d'], legendY: 90,
    material: [{ t: 'Nd' }, { t: '2', sub: true }, { t: 'O' }, { t: '3', sub: true }] as Part[],
    j: ND2O3_J, jw3: ND2O3_JW3, jMax: 25.8, jTicks: ND2O3_JTICKS, refs: ND2O3_REFS, refLabels: ND2O3_REF_LABELS,
    below: [] as number[], jLegendY: 33, jLegendStep: 14.7,
  },
];

// panel edges
const BX0 = 40, BX1 = 401.7, DX1 = 490, JX0 = 513.3, JXM = 601.7, JX1 = 690.5;

function rich(text: any, parts: Part[], subShift = 3.5, supShift = -5.5) {
  let shift = 0;
  parts.forEach((p) => {
    const target = p.sub ? subShift : p.sup ? supShift : 0;
    const ts = text.append('tspan').text(p.t).attr('dy', target - shift);
    if (p.dx) ts.attr('dx', p.dx);
    if (p.sub || p.sup) ts.attr('font-size', '0.72em');
    if (p.it) ts.attr('font-style', 'italic');
    shift = target;
  });
}

export default function App() {
  const svgRef = useRef<SVGSVGElement>(null);

  useEffect(() => {
    document.body.style.margin = '0';
    const svg = d3.select(svgRef.current);
    svg.selectAll('*').remove();
    const defs = svg.append('defs');

    const curveLine = (xs: any, ys: any) =>
      d3.line<Pt>().y((d) => ys(d[0])).x((d) => xs(d[1])).curve(d3.curveMonotoneY);
    const curveArea = (xs: any, ys: any) =>
      d3.area<Pt>().y((d) => ys(d[0])).x0(xs(0)).x1((d) => xs(d[1])).curve(d3.curveMonotoneY);

    ROWS.forEach((row, ri) => {
      const { top, bottom } = row;
      const y = d3.scaleLinear().domain(row.eRange).range([bottom, top]);
      const kx = d3.scaleLinear().domain([0, d3.max(row.kDist) as number]).range([BX0, BX1]);
      const dx = d3.scaleLinear().domain([0, 1]).range([BX1, DX1]);

      defs.append('clipPath').attr('id', `cb${ri}`).append('rect')
        .attr('x', BX0).attr('y', top).attr('width', DX1 - BX0).attr('height', bottom - top);
      const g = svg.append('g').attr('clip-path', `url(#cb${ri})`);

      // band lines
      const bandLine = d3.line<Pt>().x((d) => kx(d[0])).y((d) => y(d[1])).curve(d3.curveBumpX);
      const drawBands = (bands: number[][], stroke: string, dash: string | null, w: number) => {
        bands.forEach((b) => {
          row.segs.forEach((s) => {
            const pts: Pt[] = s.pos.map((p, i) => [row.kDist[p], b[s.val[i]]]);
            const path = g.append('path').attr('d', bandLine(pts)).attr('fill', 'none')
              .attr('stroke', stroke).attr('stroke-width', w);
            if (dash) path.attr('stroke-dasharray', dash);
          });
        });
      };
      drawBands(row.dashed, '#a8a8a8', '4,2', 1.1);
      drawBands(row.bands, '#000', null, 1.2);

      // high-symmetry verticals
      row.kDist.slice(1, -1).forEach((k) => {
        g.append('line').attr('x1', kx(k)).attr('x2', kx(k)).attr('y1', top).attr('y2', bottom)
          .attr('stroke', '#000').attr('stroke-width', 1);
      });

      // DOS
      if (row.dosDash) {
        g.append('path').attr('d', curveArea(dx, y)(row.dosDash)).attr('fill', '#efefef');
      }
      g.append('path').attr('d', curveArea(dx, y)(row.dosTotal)).attr('fill', '#d3d3d3');
      if (row.dosDash) {
        g.append('path').attr('d', curveLine(dx, y)(row.dosDash)).attr('fill', 'none')
          .attr('stroke', '#999').attr('stroke-width', 1.1).attr('stroke-dasharray', '4,2');
      }
      row.partials.forEach((p) => {
        const path = g.append('path').attr('d', curveLine(dx, y)(p.d)).attr('fill', 'none')
          .attr('stroke', p.c).attr('stroke-width', p.dash ? 1 : 1.3);
        if (p.dash) path.attr('stroke-dasharray', '4,2');
      });
      g.append('path').attr('d', curveLine(dx, y)(row.dosTotal)).attr('fill', 'none')
        .attr('stroke', '#000').attr('stroke-width', 1.2);

      // gap lines
      row.gaps.forEach((e) => {
        svg.append('line').attr('x1', BX0).attr('x2', DX1).attr('y1', y(e)).attr('y2', y(e))
          .attr('stroke', '#119911').attr('stroke-width', 1.2).attr('stroke-dasharray', '2,2');
      });

      // frames
      [[BX0, BX1], [BX1, DX1]].forEach(([a, b]) => {
        svg.append('rect').attr('x', a).attr('y', top).attr('width', b - a).attr('height', bottom - top)
          .attr('fill', 'none').attr('stroke', '#222').attr('stroke-width', 1.2);
      });

      // energy axis
      const ax = svg.append('g').attr('transform', `translate(${BX0},0)`)
        .call(d3.axisLeft(y).tickValues(row.eTicks).tickSize(-4).tickPadding(5).tickFormat(d3.format('d')));
      ax.select('.domain').remove();
      ax.selectAll('text').attr('font-family', FONT).attr('font-size', 12.5).attr('fill', '#222');
      ax.selectAll('line').attr('stroke', '#222');
      const axd = svg.append('g').attr('transform', `translate(${BX1},0)`)
        .call(d3.axisRight(y).tickValues(row.eTicks).tickSize(4).tickFormat(() => ''));
      axd.select('.domain').remove();

      svg.append('text').attr('transform', `translate(15,${(top + bottom) / 2}) rotate(-90)`)
        .attr('text-anchor', 'middle').attr('font-family', FONT).attr('font-size', 13.5)
        .attr('fill', '#222').text('Energy (eV)');
      svg.append('text').attr('x', 1).attr('y', top + 6).attr('font-family', FONT)
        .attr('font-size', 12).attr('fill', '#222').text(row.tag);

      // k labels
      row.kLabels.forEach((lab, i) => {
        const t = svg.append('text').attr('x', kx(row.kDist[i])).attr('y', bottom + 11)
          .attr('text-anchor', 'middle').attr('font-family', FONT).attr('font-size', 13).attr('fill', '#222');
        if (lab.includes('_')) {
          const [a, b] = lab.split('_');
          rich(t, [{ t: a }, { t: b, sub: true }]);
        } else t.text(lab);
      });
      svg.append('text').attr('x', (BX1 + DX1) / 2 + 1).attr('y', bottom + 11).attr('text-anchor', 'middle')
        .attr('font-family', FONT).attr('font-size', 13).attr('fill', '#222').text('DOS');

      // material + DOS legend
      const mt = svg.append('text').attr('x', 480).attr('y', top + 21).attr('text-anchor', 'end')
        .attr('font-family', FONT).attr('font-size', 14.5).attr('fill', '#222');
      rich(mt, row.material);
      row.legend.forEach((lab, i) => {
        const ly = top + row.legendY + i * 13;
        svg.append('line').attr('x1', 429).attr('x2', 440).attr('y1', ly).attr('y2', ly)
          .attr('stroke', i === 0 ? '#ff2020' : '#2020ff').attr('stroke-width', 2);
        svg.append('text').attr('x', 443).attr('y', ly + 4).attr('font-family', FONT)
          .attr('font-size', 11.5).attr('fill', '#222').text(lab);
      });

      // ---------- j panels ----------
      const jy = d3.scaleLinear().domain([0, row.jMax]).range([bottom, top]);
      const jx1 = d3.scaleLinear().domain([0, 1]).range([JX0, JXM]);
      const jx2 = d3.scaleLinear().domain([0, 1]).range([JXM, JX1]);
      defs.append('clipPath').attr('id', `cj${ri}`).append('rect')
        .attr('x', JX0).attr('y', top).attr('width', JX1 - JX0).attr('height', bottom - top);
      const gj = svg.append('g').attr('clip-path', `url(#cj${ri})`);
      [[row.j, jx1], [row.jw3, jx2]].forEach(([data, xs]: any) => {
        gj.append('path').attr('d', curveArea(xs, jy)(data)).attr('fill', '#d3d3d3');
        gj.append('path').attr('d', curveLine(xs, jy)(data)).attr('fill', 'none')
          .attr('stroke', '#000').attr('stroke-width', 1.2);
      });
      row.refs.forEach((v, i) => {
        gj.append('line').attr('x1', JX0).attr('x2', JX1).attr('y1', jy(v)).attr('y2', jy(v))
          .attr('stroke', REF_COLORS[i]).attr('stroke-width', 1.2).attr('stroke-dasharray', '2,2');
        const below = row.below.includes(i);
        svg.append('text').attr('x', JXM - 8).attr('y', jy(v) + (below ? 10.5 : -3))
          .attr('text-anchor', 'end').attr('font-family', FONT).attr('font-size', 11.5)
          .attr('fill', '#222').text(row.refLabels[i]);
      });
      [[JX0, JXM], [JXM, JX1]].forEach(([a, b]) => {
        svg.append('rect').attr('x', a).attr('y', top).attr('width', b - a).attr('height', bottom - top)
          .attr('fill', 'none').attr('stroke', '#222').attr('stroke-width', 1.2);
      });
      const jax = svg.append('g').attr('transform', `translate(${JX0},0)`)
        .call(d3.axisLeft(jy).tickValues(row.jTicks).tickSize(-4).tickPadding(4).tickFormat(d3.format('d')));
      jax.select('.domain').remove();
      jax.selectAll('text').attr('font-family', FONT).attr('font-size', 12.5).attr('fill', '#222');
      const jaxm = svg.append('g').attr('transform', `translate(${JXM},0)`)
        .call(d3.axisRight(jy).tickValues(row.jTicks).tickSize(4).tickFormat(() => ''));
      jaxm.select('.domain').remove();

      // legend in j/w^3 panel
      const legParts: Part[][] = [
        [{ t: 'ω', it: true }, { t: 'max', sub: true }],
        [{ t: 'ω', it: true }, { t: 'eff', sub: true }],
        [{ t: 'ω', it: true }, { t: 'g', sub: true, it: true }],
        [{ t: 'E', it: true }, { t: 'g', sub: true, it: true }, { t: 'd', sup: true, it: true }],
      ];
      legParts.forEach((parts, i) => {
        const ly = top + row.jLegendY + i * row.jLegendStep;
        svg.append('line').attr('x1', 644).attr('x2', 654).attr('y1', ly).attr('y2', ly)
          .attr('stroke', REF_COLORS[i]).attr('stroke-width', 1.2).attr('stroke-dasharray', '1.5,1.2');
        const t = svg.append('text').attr('x', 656).attr('y', ly + 3).attr('font-family', FONT)
          .attr('font-size', 11.5).attr('fill', '#222');
        rich(t, parts, 2.5, -3.5);
      });

      // bottom labels
      const l1 = svg.append('text').attr('x', (JX0 + JXM) / 2).attr('y', bottom + 11).attr('text-anchor', 'middle')
        .attr('font-family', FONT).attr('font-size', 13).attr('fill', '#222');
      rich(l1, [{ t: 'j', it: true }, { t: '(' }, { t: 'ω', it: true }, { t: ')' }]);
      const l2 = svg.append('text').attr('x', (JXM + JX1) / 2).attr('y', bottom + 11).attr('text-anchor', 'middle')
        .attr('font-family', FONT).attr('font-size', 13).attr('fill', '#222');
      rich(l2, [{ t: 'j', it: true }, { t: '(' }, { t: 'ω', it: true }, { t: ')/' }, { t: 'ω', it: true }, { t: '3', sup: true }]);
    });
  }, []);

  return (
    <div style={{ width: 693, height: 844, background: '#fff' }}>
      <svg ref={svgRef} width={693} height={844} style={{ display: 'block' }}></svg>
    </div>
  );
}
